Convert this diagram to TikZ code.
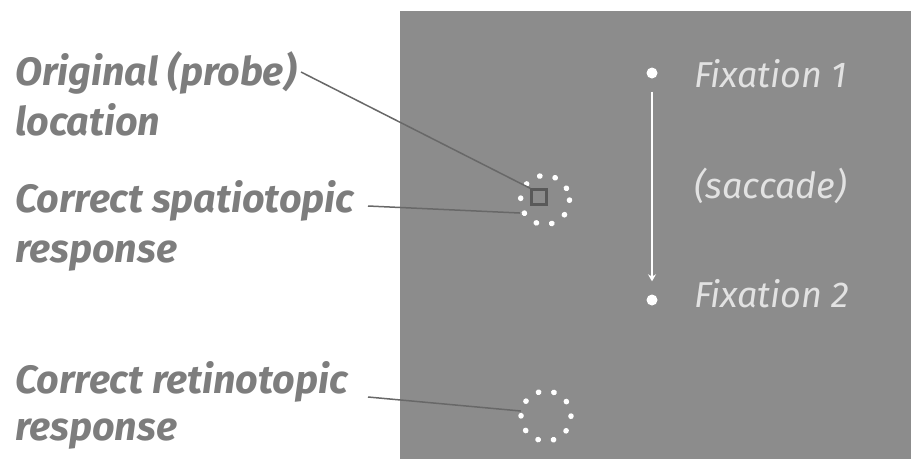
\documentclass[tikz,border=0pt]{standalone}
\usepackage{fontspec}
\setmainfont{Fira Sans}
\usetikzlibrary{arrows.meta,calc}
\definecolor{panel}{HTML}{8C8C8C}
\definecolor{labelgray}{HTML}{7D7D7D}
\definecolor{leader}{HTML}{686868}
\definecolor{paleink}{HTML}{E2E2E2}
\begin{document}
\begin{tikzpicture}[x=1pt,y=-1pt,
  lefttext/.style={anchor=base west,inner sep=0pt,text=labelgray,
    font=\fontsize{39.5}{46}\selectfont\bfseries\itshape},
  righttext/.style={anchor=base west,inner sep=0pt,text=paleink,
    font=\fontsize{36}{42}\selectfont\itshape},
  leaderline/.style={draw=leader,line width=1.5pt},
  dotring/.style={draw=white,line width=5.5pt,line cap=round,
    dash pattern=on 0.3pt off 15.4pt},
  fixdot/.style={circle,fill=white,inner sep=0pt,minimum size=11pt}]
\useasboundingbox (0,0) rectangle (911,459);
\fill[white] (0,0) rectangle (911,459);
% display panel
\fill[panel] (400,11) rectangle (911,459);

% probe square and the two response rings
\node[draw=black!65,line width=2.2pt,minimum size=15pt,inner sep=0pt] (probe) at (539,197) {};
\node[circle,minimum size=50pt,inner sep=0pt] (spat) at (545,200) {};
\draw[dotring] (545,200) circle (24.5);
\node[circle,minimum size=50pt,inner sep=0pt] (retino) at (546,416) {};
\draw[dotring] (546,416) circle (25);

% fixations and saccade
\node[fixdot] (f1) at (652,73) {};
\node[fixdot] (f2) at (652,300) {};
\draw[white,line width=2.6pt,-{Stealth[length=7pt,width=8pt]}]
  ($(f1.south)+(0,13)$) -- ($(f2.north)+(0,-13)$);
\node[righttext] (t1) at (694,87) {Fixation 1};
\node[righttext] (ts) at (694,198) {(saccade)};
\node[righttext] (t2) at (694,307) {Fixation 2};

% left labels
\node[lefttext] (l1) at (15,85) {Original (probe)};
\node[lefttext] (l1b) at (15,135) {location};
\node[lefttext] (l2) at (15,212) {Correct spatiotopic};
\node[lefttext] (l2b) at (15,262) {response};
\node[lefttext] (l3) at (15,393) {Correct retinotopic};
\node[lefttext] (l3b) at (15,440) {response};

% leader lines
\coordinate (e1) at (301,72);
\coordinate (e2) at (368,206);
\coordinate (e3) at (368,397);
\draw[leaderline] (e1) -- (probe.north west);
\draw[leaderline] (e2) -- (spat.west |- 0,213);
\draw[leaderline] (e3) -- ($(retino.west)+(0,-5)$);
\end{tikzpicture}
\end{document}
